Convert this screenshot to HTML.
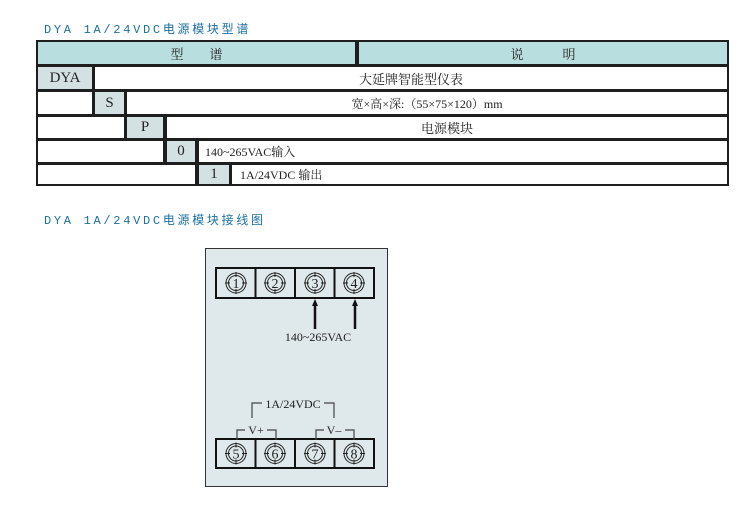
<!DOCTYPE html>
<html><head><meta charset="utf-8"><style>
body{margin:0;width:752px;height:527px;background:#fff;position:relative;overflow:hidden;font-family:"Liberation Serif","Noto Serif CJK SC",serif;}
.t{position:absolute;color:#1b6fa0;font-family:"Liberation Mono","Noto Sans CJK SC",sans-serif;font-size:12px;letter-spacing:2.7px;white-space:nowrap;}
.c{position:absolute;display:flex;align-items:center;justify-content:center;font-size:13px;color:#222;white-space:nowrap;}
.h{background:#b9dedf;}
.k{background:#d4e1e3;}
.w{background:#fff;}
</style></head><body>
<div class="t" style="left:44px;top:20px">DYA 1A/24VDC电源模块型谱</div>
<div style="position:absolute;left:36px;top:40px;width:693px;height:146px;background:#1e1e1e"></div>
<div class="c h" style="left:38px;top:42px;width:317px;height:22px">型&nbsp;&nbsp;&nbsp;&nbsp;&nbsp;&nbsp;&nbsp;&nbsp;谱</div>
<div class="c h" style="left:359px;top:42px;width:368px;height:22px">说&nbsp;&nbsp;&nbsp;&nbsp;&nbsp;&nbsp;&nbsp;&nbsp;&nbsp;&nbsp;&nbsp;&nbsp;明</div>
<div class="c k" style="left:38px;top:67px;width:54px;height:22px;font-size:15px">DYA</div>
<div class="c w" style="left:95px;top:67px;width:632px;height:22px">大延牌智能型仪表</div>
<div class="c w" style="left:38px;top:92px;width:54px;height:22px"></div>
<div class="c k" style="left:95px;top:92px;width:29px;height:22px;font-size:15px">S</div>
<div class="c w" style="left:127px;top:92px;width:600px;height:22px;font-size:12px">宽×高×深:（55×75×120）mm</div>
<div class="c w" style="left:38px;top:117px;width:86px;height:21px"></div>
<div class="c k" style="left:127px;top:117px;width:36px;height:21px;font-size:15px">P</div>
<div class="c w" style="left:167px;top:117px;width:560px;height:21px">电源模块</div>
<div class="c w" style="left:38px;top:141px;width:125px;height:21px"></div>
<div class="c k" style="left:167px;top:141px;width:28px;height:21px;font-size:15px">0</div>
<div class="c w" style="left:199px;top:141px;width:522px;height:21px;justify-content:flex-start;padding-left:6px;font-size:12px">140~265VAC输入</div>
<div class="c w" style="left:38px;top:165px;width:157px;height:19px"></div>
<div class="c k" style="left:199px;top:165px;width:30px;height:19px;font-size:15px">1</div>
<div class="c w" style="left:232px;top:165px;width:487px;height:19px;justify-content:flex-start;padding-left:8px;font-size:12px">1A/24VDC 输出</div>
<div class="t" style="left:44px;top:211px">DYA 1A/24VDC电源模块接线图</div>
<svg style="position:absolute;left:0;top:0" width="752" height="527" font-family="Liberation Serif,serif">
<defs>
<g id="term" fill="none" stroke="#222" stroke-width="1">
<circle r="10"/><circle r="7.5"/>
<line x1="0" y1="-11" x2="0" y2="-6"/><line x1="0" y1="6" x2="0" y2="11"/>
<line x1="-11" y1="0" x2="-6" y2="0"/><line x1="6" y1="0" x2="11" y2="0"/>
</g>
</defs>
<rect x="205.5" y="248.5" width="182" height="238" fill="#dfe8ea" stroke="#333" stroke-width="1"/>
<g fill="#dfe8ea" stroke="#111" stroke-width="2">
<rect x="216" y="268" width="158" height="30"/>
<line x1="255.5" y1="268" x2="255.5" y2="298"/>
<line x1="295" y1="268" x2="295" y2="298"/>
<line x1="334.5" y1="268" x2="334.5" y2="298"/>
<rect x="216" y="439" width="158" height="29"/>
<line x1="255.5" y1="439" x2="255.5" y2="468"/>
<line x1="295" y1="439" x2="295" y2="468"/>
<line x1="334.5" y1="439" x2="334.5" y2="468"/>
</g>
<use href="#term" x="236" y="283"/><use href="#term" x="275" y="283"/><use href="#term" x="315" y="283"/><use href="#term" x="354" y="283"/>
<use href="#term" x="236" y="453.5"/><use href="#term" x="275" y="453.5"/><use href="#term" x="315" y="453.5"/><use href="#term" x="354" y="453.5"/>
<g font-size="14" fill="#222" text-anchor="middle">
<text x="236" y="288">1</text><text x="275" y="288">2</text><text x="315" y="288">3</text><text x="354" y="288">4</text>
<text x="236" y="458.5">5</text><text x="275" y="458.5">6</text><text x="315" y="458.5">7</text><text x="354" y="458.5">8</text>
</g>
<g stroke="#111" stroke-width="2.5">
<line x1="315" y1="303" x2="315" y2="329"/><line x1="355" y1="303" x2="355" y2="329"/>
</g>
<polygon points="315,299 312,306 318,306" fill="#111"/>
<polygon points="355,299 352,306 358,306" fill="#111"/>
<text x="318" y="341" font-size="12" text-anchor="middle" fill="#222">140~265VAC</text>
<g fill="none" stroke="#444" stroke-width="1.2">
<polyline points="262,403 252,403 252,418"/>
<polyline points="324,403 334,403 334,418"/>
<polyline points="245,430 237,430 237,440"/>
<polyline points="267,430 276,430 276,440"/>
<polyline points="324,430 316,430 316,440"/>
<polyline points="345,430 354,430 354,440"/>
</g>
<g font-size="12" fill="#222" text-anchor="middle">
<text x="293" y="408">1A/24VDC</text>
<text x="256" y="434">V+</text>
<text x="334" y="434">V–</text>
</g>
</svg>
</body></html>
